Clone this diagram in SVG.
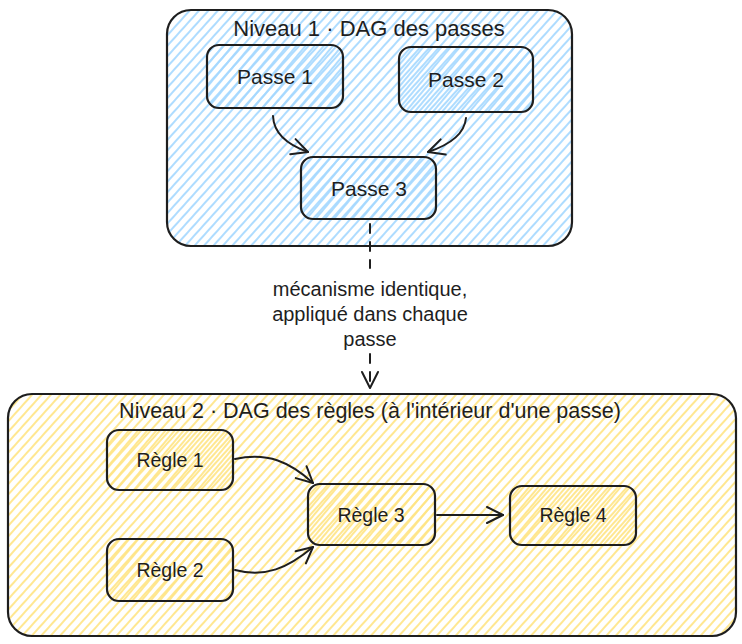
<svg xmlns="http://www.w3.org/2000/svg" width="742" height="644" viewBox="0 0 742 644">
<style>
.box{stroke:#1e1e1e;stroke-width:2.2;}
.t{font-family:"Liberation Sans",Arial,sans-serif;fill:#1e1e1e;text-anchor:middle;dominant-baseline:central;}
.t1{font-size:22px;}
.t2{font-size:21.5px;}
.np{font-size:21px;}
.nr{font-size:19.5px;}
.lbl{font-size:20px;}
.edge{fill:none;stroke:#1e1e1e;stroke-width:2;stroke-linecap:round;}
</style>
<defs>
<pattern id="hb" patternUnits="userSpaceOnUse" width="7" height="7" patternTransform="rotate(42)">
<line x1="1" y1="0" x2="1" y2="7" stroke="#a5d8ff" stroke-width="1.8"/>
</pattern>
<pattern id="hb2" patternUnits="userSpaceOnUse" width="7" height="7" patternTransform="rotate(40) translate(3.5 0)">
<line x1="1" y1="0" x2="1" y2="7" stroke="#a5d8ff" stroke-width="1.8"/>
</pattern>
<pattern id="hy" patternUnits="userSpaceOnUse" width="7" height="7" patternTransform="rotate(42)">
<line x1="1" y1="0" x2="1" y2="7" stroke="#ffe585" stroke-width="1.8"/>
</pattern>
<pattern id="hy2" patternUnits="userSpaceOnUse" width="7" height="7" patternTransform="rotate(40) translate(3.5 0)">
<line x1="1" y1="0" x2="1" y2="7" stroke="#ffe585" stroke-width="1.8"/>
</pattern>
<marker id="ah" viewBox="0 0 20 20" refX="18" refY="10" markerWidth="20" markerHeight="20" markerUnits="userSpaceOnUse" orient="auto">
<path d="M2,2 L18,10 L2,18" fill="none" stroke="#1e1e1e" stroke-width="2" stroke-linecap="round" stroke-linejoin="round"/>
</marker>
</defs>

<g id="niveau1">
<rect class="box" x="167" y="10" width="405" height="236" rx="24" fill="url(#hb)"/>
<text class="t t1" x="369" y="28">Niveau 1 · DAG des passes</text>
</g>
<g id="niveau2">
<rect class="box" x="8" y="394" width="728" height="242" rx="24" fill="url(#hy)"/>
<text class="t t2" x="370" y="411">Niveau 2 · DAG des règles (à l'intérieur d'une passe)</text>
</g>

<g id="passe1">
<rect class="box" x="207" y="45" width="136" height="63" rx="12" fill="url(#hb2)"/>
<text class="t np" x="275" y="76">Passe 1</text>
</g>
<g id="passe2">
<rect class="box" x="399" y="47" width="134" height="65" rx="12" fill="url(#hb2)"/>
<text class="t np" x="466" y="79">Passe 2</text>
</g>
<g id="passe3">
<rect class="box" x="301" y="157" width="135" height="62" rx="12" fill="url(#hb2)"/>
<text class="t np" x="369" y="188">Passe 3</text>
</g>

<g id="regle1">
<rect class="box" x="107" y="430" width="126" height="60" rx="12" fill="url(#hy2)"/>
<text class="t nr" x="170" y="460">Règle 1</text>
</g>
<g id="regle2">
<rect class="box" x="107" y="539" width="126" height="62" rx="12" fill="url(#hy2)"/>
<text class="t nr" x="170" y="570">Règle 2</text>
</g>
<g id="regle3">
<rect class="box" x="308" y="484" width="127" height="61" rx="12" fill="url(#hy2)"/>
<text class="t nr" x="371" y="515">Règle 3</text>
</g>
<g id="regle4">
<rect class="box" x="510" y="486" width="126" height="59" rx="12" fill="url(#hy2)"/>
<text class="t nr" x="573" y="515">Règle 4</text>
</g>

<g id="connectors">
<path class="edge" d="M273,116 Q274,140 308,152" marker-end="url(#ah)"/>
<path class="edge" d="M466,118 Q464,140 428,152" marker-end="url(#ah)"/>
<path class="edge" d="M370,224 L370,268" stroke-dasharray="9 9"/>
<path class="edge" d="M370,354 L370,388" stroke-dasharray="9 9" marker-end="url(#ah)"/>
<path class="edge" d="M235,459 C268,452 290,462 313,483" marker-end="url(#ah)"/>
<path class="edge" d="M235,570 C265,578 288,568 313,547" marker-end="url(#ah)"/>
<path class="edge" d="M437,515 L503,515" marker-end="url(#ah)"/>
<text class="t lbl" x="370" y="289">mécanisme identique,</text>
<text class="t lbl" x="370" y="314">appliqué dans chaque</text>
<text class="t lbl" x="370" y="339">passe</text>
</g>
</svg>
